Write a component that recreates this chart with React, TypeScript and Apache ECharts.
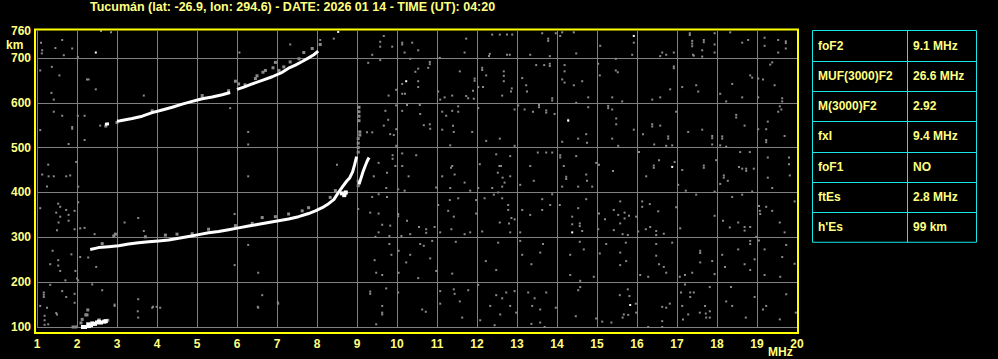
import React, { useEffect, useRef } from "react";
import * as echarts from "echarts";

const titleText = "Tucumán (lat: -26.9, lon: 294.6) - DATE: 2026 01 14 - TIME (UT): 04:20";
const freqMin = 1;
const freqMax = 20;
const heightMin = 100;
const heightMax = 760;
const heightStep = 100;

const tableLabels = ["foF2", "MUF(3000)F2", "M(3000)F2", "fxI", "foF1", "ftEs", "h'Es"];
const tableValues = ["9.1 MHz", "26.6 MHz", "2.92", "9.4 MHz", "NO", "2.8 MHz", "99 km"];

// ordinary F2 trace
const oTrace = [
  [2.33, 273], [2.54, 277], [2.79, 279], [3.04, 281], [3.29, 285], [3.54, 288], [3.79, 290],
  [4.04, 292], [4.29, 294], [4.54, 298], [4.79, 302], [5.04, 306], [5.29, 310], [5.54, 313],
  [5.79, 317], [6.04, 321], [6.29, 325], [6.54, 329], [6.79, 333], [7.04, 337], [7.29, 341],
  [7.54, 346], [7.79, 353], [7.96, 359], [8.13, 366], [8.29, 375], [8.42, 384], [8.52, 398],
  [8.64, 413], [8.74, 425], [8.82, 433], [8.89, 446], [8.94, 462], [8.99, 480],
];
// extraordinary trace
const xTrace = [[9.05, 418], [9.1, 432], [9.15, 446], [9.2, 458], [9.25, 469], [9.3, 478]];
// second hop F trace
const upperTraceA = [[2.7, 552], [2.8, 553]];
const upperTraceB = [
  [3.0, 559], [3.08, 560], [3.38, 565], [3.63, 570], [3.88, 578], [4.13, 584], [4.38, 590],
  [4.63, 597], [4.88, 603], [5.13, 609], [5.38, 613], [5.63, 618], [5.83, 623],
];
const upperTraceC = [
  [6.0, 630], [6.17, 635], [6.38, 642], [6.63, 650], [6.88, 658], [7.13, 668], [7.29, 677],
  [7.46, 684], [7.63, 692], [7.79, 700], [7.92, 707], [8.03, 715],
];
// sporadic E
const esTrace = [
  [2.07, 93], [2.12, 95], [2.17, 97], [2.2, 100], [2.25, 99], [2.3, 102], [2.35, 104], [2.38, 108],
  [2.45, 107], [2.5, 110], [2.55, 112], [2.6, 110], [2.68, 112], [2.72, 113], [2.15, 100], [2.28, 106],
  [8.62, 398], [8.68, 394], [8.72, 400],
];
const traceEcho = [
  [3.88, 582], [5.13, 616], [5.79, 627], [5.96, 648], [6.04, 642], [6.2, 640], [6.46, 654], [6.5, 660],
  [6.65, 668], [6.71, 672], [6.9, 678], [6.96, 690], [7.05, 672], [7.17, 680], [7.33, 691], [7.55, 698],
  [7.67, 712], [7.88, 721], [8.08, 730], [2.72, 548], [3.0, 556],
  [2.63, 286], [2.96, 307], [2.92, 303], [3.71, 301], [4.21, 305], [4.5, 307], [4.88, 308], [5.29, 318],
  [5.96, 326], [6.38, 331], [6.63, 344], [6.96, 346], [7.29, 352], [7.63, 359], [7.79, 366], [8.33, 389],
  [8.46, 404], [8.71, 396], [9.03, 490], [9.03, 500], [9.03, 510], [9.03, 520], [9.05, 560], [9.05, 570],
  [9.05, 580], [9.05, 590], [9.07, 528], [9.07, 535], [9.03, 425], [9.03, 415],
  [1.9, 100], [1.97, 100], [2.1, 109], [2.22, 127], [2.25, 127], [2.27, 138], [2.55, 116], [2.77, 115],
  [2.13, 117],
];
const whiteDots = [
  [2.47, 712], [8.53, 758], [10.23, 648], [15.92, 749], [14.28, 560], [16.88, 457], [14.38, 311],
  [15.83, 149], [15.98, 91], [17.55, 90],
];
const noiseUpper = [
  [1.5, 762], [2.6, 760], [2.85, 757], [1.1, 734], [1.13, 717], [1.12, 710], [1.46, 722], [1.63, 740],
  [1.88, 721], [1.67, 706], [2.02, 702], [1.37, 680], [1.56, 661], [2.25, 652], [2.29, 652], [2.47, 630],
  [1.36, 622], [1.42, 607], [3.67, 616], [1.08, 672], [1.42, 580], [1.63, 571], [2.02, 571], [2.19, 571],
  [1.88, 546], [1.88, 542], [2.58, 549], [1.08, 539], [1.79, 508], [2.19, 517], [1.28, 462], [1.13, 440],
  [1.29, 436], [1.42, 436], [1.73, 436], [1.83, 438], [1.98, 468], [5.83, 588], [6.28, 535], [6.28, 507],
  [6.28, 436], [6.06, 712], [7.33, 730], [8.08, 740], [8.08, 730], [8.42, 743], [9.28, 689], [9.38, 707],
  [9.67, 749], [9.58, 736], [9.58, 725], [9.88, 725], [10.13, 734], [10.13, 730], [10.19, 712], [10.38, 734],
  [9.58, 695], [10.46, 669], [10.33, 698], [10.13, 642], [9.98, 629], [9.79, 616], [10.13, 620], [10.2, 620],
  [9.98, 594], [10.13, 582], [10.25, 595], [9.71, 582], [9.78, 562], [9.67, 549], [9.83, 530], [9.92, 528],
  [9.98, 541], [9.25, 534], [9.38, 534], [9.98, 504], [10.13, 487], [9.89, 483], [9.89, 475], [9.96, 459],
  [9.75, 444], [9.54, 466], [9.42, 436], [10.13, 459], [10.29, 436], [8.5, 462],
  [11.32, 762], [11.73, 743], [12.38, 752], [12.57, 752], [12.75, 752], [12.88, 752], [13.33, 762],
  [13.63, 755], [13.78, 743], [13.78, 738], [13.97, 755], [14.08, 749], [14.13, 757], [14.42, 757],
  [15.03, 762], [15.92, 734], [15.08, 727], [14.48, 710], [13.82, 704], [13.33, 707], [12.75, 707],
  [12.82, 707], [12.3, 704], [12.32, 709], [11.69, 712], [11.07, 700], [10.53, 717], [17.32, 755],
  [17.32, 751], [17.38, 738], [17.38, 732], [17.38, 726], [17.4, 707], [17.42, 705], [17.67, 740],
  [17.67, 735], [17.63, 717], [17.63, 703], [17.94, 755], [17.94, 730], [17.94, 712], [18.33, 757],
  [18.63, 734], [18.78, 740], [19.19, 745], [19.19, 727], [19.33, 762], [19.53, 740], [19.72, 737],
  [19.72, 733], [19.72, 721], [19.53, 712], [16.63, 712], [16.73, 707], [16.92, 712], [16.58, 704],
  [15.88, 707], [15.47, 698], [15.03, 687], [10.82, 691], [10.82, 686], [10.53, 676], [10.78, 678],
  [11.57, 670], [12.13, 678], [12.13, 673], [12.23, 661], [12.67, 670], [12.67, 660], [12.67, 648],
  [13.13, 655], [13.48, 684], [13.68, 684], [13.82, 687], [13.82, 682], [14.19, 684], [14.19, 670],
  [14.13, 652], [14.19, 645], [14.42, 639], [14.63, 648], [15.07, 661], [15.47, 672], [15.52, 668],
  [10.53, 648], [10.53, 635], [11.03, 625], [11.94, 654], [11.94, 649], [12.03, 635], [12.15, 635],
  [11.9, 627], [11.92, 609], [11.73, 615], [11.78, 610], [11.38, 616], [11.19, 612], [11.08, 607],
  [12.63, 616], [12.85, 625], [12.87, 632], [13.23, 639], [13.25, 625], [13.88, 605], [13.88, 610],
  [14.78, 612], [14.48, 600], [15.38, 612], [15.63, 603], [16.38, 607], [16.58, 612], [16.83, 630],
  [16.92, 677], [16.92, 681], [17.13, 635], [17.48, 639], [17.53, 625], [18.08, 620], [18.23, 603],
  [18.38, 642], [18.63, 612], [18.83, 661], [18.88, 656], [19.03, 654], [19.15, 652], [19.44, 639],
  [19.33, 685], [19.38, 690], [19.03, 612], [19.63, 610], [19.63, 603], [19.57, 592], [19.61, 585],
  [19.53, 580], [10.57, 595], [10.58, 575], [10.67, 550], [10.82, 552], [10.83, 542], [11.13, 580],
  [11.23, 571], [11.4, 549], [11.38, 582], [11.53, 592], [11.53, 580], [11.13, 540], [11.33, 505],
  [11.42, 535], [11.88, 535], [12.03, 588], [12.23, 515], [12.57, 520], [12.94, 585], [12.94, 504],
  [13.03, 594], [13.19, 585], [13.4, 580], [13.55, 595], [13.55, 590], [13.73, 583], [13.73, 578],
  [13.94, 575], [14.28, 562], [14.13, 513], [14.53, 520], [14.73, 530], [14.75, 511], [14.78, 590],
  [15.28, 593], [15.28, 588], [15.38, 585], [15.48, 565], [15.48, 552], [15.38, 520], [15.53, 504],
  [15.92, 540], [16.15, 530], [16.38, 552], [16.38, 547], [16.58, 549], [16.78, 525], [16.78, 520],
  [16.43, 507], [16.73, 504], [16.88, 505], [16.98, 580], [17.28, 535], [17.63, 540], [17.88, 526],
  [17.88, 521], [18.13, 525], [18.13, 520], [17.88, 507], [18.08, 505], [18.23, 502], [18.48, 573],
  [18.48, 567], [18.69, 549], [19.03, 541], [19.23, 541], [19.23, 517], [19.23, 512], [19.27, 558],
  [19.69, 526], [10.48, 483], [11.38, 459], [11.35, 455], [11.13, 436], [11.44, 440], [12.07, 463],
  [12.48, 485], [12.6, 459], [12.52, 444], [12.56, 459], [12.83, 481], [12.83, 436], [12.64, 433],
  [13.33, 459], [13.52, 489], [13.73, 489], [13.88, 489], [14.08, 483], [14.08, 478], [14.17, 459],
  [14.23, 435], [14.23, 430], [14.48, 481], [14.73, 440], [14.98, 466], [15.05, 462], [15.4, 448],
  [16.05, 490], [16.23, 436], [16.42, 460], [16.42, 455], [16.55, 472], [16.94, 468], [17.13, 450],
  [17.67, 460], [17.67, 455], [17.98, 472], [18.17, 438], [18.17, 433], [18.55, 457], [18.63, 453],
  [18.73, 453], [18.73, 448], [18.58, 490], [18.82, 490], [19.27, 478], [19.27, 433], [19.8, 478],
  [19.8, 463], [19.82, 438], [18.92, 453],
];
const noiseLower = [
  [1.25, 413], [2.03, 413], [1.08, 365], [1.53, 375], [1.58, 368], [1.48, 355], [1.73, 361], [1.79, 350],
  [1.94, 359], [1.58, 346], [1.54, 333], [1.79, 337], [1.5, 316], [1.94, 318], [2.08, 320], [2.19, 321],
  [2.03, 378], [2.44, 307], [3.19, 333], [3.53, 343], [3.67, 314], [5.94, 352], [6.28, 283],
  [1.39, 270], [1.53, 249], [1.53, 237], [1.33, 240], [1.86, 262], [2.08, 256], [2.28, 255], [2.48, 234],
  [1.33, 194], [1.58, 225], [1.71, 204], [1.96, 225], [2.03, 204], [2.0, 208], [2.38, 195], [1.17, 177],
  [1.17, 167], [1.17, 172], [1.25, 143], [1.08, 147], [1.63, 180], [1.73, 167], [1.94, 174], [1.94, 154],
  [1.5, 128], [1.28, 106], [2.63, 182], [2.94, 147], [3.53, 162], [3.53, 121], [3.88, 143],
  [4.08, 143], [5.94, 238], [6.53, 221], [6.63, 171], [6.53, 143], [7.03, 152], [9.03, 363], [9.38, 390],
  [9.54, 396], [9.75, 390], [10.03, 407], [10.19, 404], [9.73, 410], [9.33, 355], [9.54, 353], [10.03, 352],
  [10.03, 347], [10.25, 337], [10.33, 307], [10.11, 303], [9.83, 326], [9.63, 328], [9.54, 311], [9.81, 303],
  [9.46, 301], [9.81, 285], [10.04, 270], [9.86, 261], [9.44, 249], [10.33, 261], [10.23, 244], [9.48, 221],
  [10.04, 221], [9.73, 186], [9.63, 216], [9.33, 179], [9.33, 174], [10.03, 177], [9.63, 147], [9.63, 132],
  [9.63, 128], [9.48, 106], [10.29, 95], [1.19, 105], [1.19, 115], [1.19, 125], [1.48, 131], [2.94, 150],
  [3.52, 135], [3.9, 145], [3.99, 145], [6.52, 145], [7.02, 155],
  [10.98, 411], [11.33, 410], [11.69, 422], [11.83, 404], [12.03, 410], [12.38, 410], [12.53, 400],
  [12.63, 413], [12.69, 422], [13.08, 417], [13.42, 426], [14.13, 413], [14.53, 413], [14.75, 426],
  [14.88, 413], [17.03, 417], [17.22, 404], [17.94, 402], [18.08, 419], [18.27, 426], [19.38, 410],
  [11.03, 372], [11.32, 383], [11.53, 387], [11.28, 359], [11.42, 346], [10.73, 318], [10.73, 310],
  [10.55, 323], [10.94, 323], [11.08, 311], [11.36, 318], [11.69, 307], [11.83, 311], [11.98, 353],
  [11.98, 383], [12.19, 387], [12.42, 395], [12.63, 387], [12.78, 372], [12.78, 361], [12.57, 333],
  [12.8, 331], [12.86, 343], [12.94, 340], [12.13, 313], [12.83, 311], [13.08, 311], [13.13, 361],
  [13.33, 350], [13.63, 385], [13.63, 361], [13.83, 372], [13.88, 396], [14.07, 372], [14.53, 365],
  [14.38, 346], [14.38, 329], [14.57, 331], [14.57, 325], [14.63, 314], [14.73, 385], [15.05, 353],
  [15.03, 318], [15.2, 340], [15.42, 361], [15.42, 316], [15.53, 350], [15.58, 380], [15.69, 355],
  [15.69, 342], [15.8, 348], [15.58, 331], [15.64, 307], [15.77, 305], [15.98, 346], [16.03, 313],
  [16.13, 380], [16.13, 368], [16.32, 374], [16.53, 358], [16.22, 318], [16.33, 323], [16.48, 314],
  [16.67, 308], [16.48, 305], [16.98, 367], [17.08, 320], [17.48, 395], [17.94, 348], [18.15, 337],
  [18.32, 322], [18.53, 333], [18.69, 323], [18.69, 315], [18.83, 323], [18.38, 390], [18.63, 395],
  [18.88, 402], [19.05, 370], [19.07, 359], [19.08, 352], [19.23, 368], [19.38, 359], [19.57, 333],
  [19.69, 311], [19.94, 380], [18.98, 301], [10.58, 285], [10.67, 281], [10.88, 292], [10.83, 253],
  [10.98, 225], [11.38, 219], [11.47, 290], [12.22, 247], [12.48, 227], [12.53, 288], [13.13, 261],
  [13.08, 292], [13.36, 240], [13.58, 266], [13.65, 285], [14.33, 261], [14.33, 216], [14.57, 290],
  [14.58, 203], [14.67, 273], [14.92, 212], [15.07, 264], [15.23, 285], [15.58, 266], [15.58, 238],
  [15.73, 247], [15.72, 288], [16.08, 216], [16.28, 212], [16.48, 285], [16.48, 259], [16.55, 240],
  [16.67, 234], [16.73, 221], [16.88, 288], [17.07, 212], [17.2, 216], [17.38, 221], [17.58, 270],
  [17.58, 244], [17.58, 265], [17.88, 247], [17.94, 218], [18.13, 261], [18.2, 234], [18.53, 273],
  [18.69, 240], [18.83, 292], [18.83, 285], [18.83, 227], [18.94, 251], [19.05, 293], [19.19, 273],
  [19.19, 216], [19.58, 212], [19.63, 256], [19.73, 283], [19.94, 241], [10.53, 209], [12.03, 194],
  [11.08, 180], [11.42, 184], [11.78, 182], [11.08, 152], [11.44, 174], [11.57, 157], [10.63, 139],
  [10.72, 134], [11.63, 121], [12.08, 115], [12.33, 147], [12.48, 171], [12.63, 164], [12.73, 177],
  [12.83, 147], [12.94, 180], [12.98, 132], [12.58, 128], [12.44, 104], [12.73, 98], [12.08, 98],
  [13.28, 177], [13.38, 147], [13.44, 164], [13.58, 139], [13.73, 177], [13.58, 110], [13.36, 107],
  [13.69, 100], [13.97, 143], [14.47, 124], [14.53, 182], [14.58, 189], [14.98, 119], [15.13, 112],
  [15.36, 110], [15.57, 171], [15.67, 128], [15.64, 121], [15.78, 127], [15.77, 184], [15.81, 169],
  [15.97, 152], [15.98, 132], [16.28, 100], [16.63, 145], [16.73, 143], [16.82, 152], [16.63, 113],
  [16.63, 100], [17.1, 177], [17.2, 195], [17.33, 177], [17.42, 177], [17.33, 167], [17.82, 189],
  [17.13, 147], [17.28, 128], [17.15, 117], [17.57, 132], [17.72, 130], [17.73, 121], [17.82, 121],
  [17.82, 135], [17.7, 147], [18.38, 147], [18.23, 157], [18.35, 189], [18.72, 121], [18.94, 167],
  [19.15, 139], [19.23, 147], [19.73, 173], [19.57, 117], [19.97, 132], [19.05, 98],
  [10.69, 94], [11.19, 93], [11.36, 98], [11.57, 94], [11.78, 96], [12.07, 93], [12.42, 98], [12.48, 94],
  [12.67, 93], [12.86, 92], [13.15, 93], [13.38, 93], [13.9, 96], [13.92, 92], [14.13, 93], [14.5, 93],
  [14.73, 92], [14.9, 93], [15.03, 94], [15.28, 92], [15.47, 93], [15.58, 92], [16.23, 98], [16.3, 93],
  [16.61, 94], [17.05, 93], [17.15, 96], [17.38, 92], [17.73, 94], [17.9, 93], [19.15, 93], [19.3, 94],
  [19.48, 94], [19.69, 93], [19.86, 93],
];

const YEL = "#ffff80";
const CYAN = "#19e6e6";
const GRAY = "#8a8a8a";
const FONT = '"Liberation Sans", Arial, sans-serif';

export default function App() {
  const ref = useRef<HTMLDivElement>(null);
  useEffect(() => {
    if (!ref.current) return;
    const chart = echarts.init(ref.current, null, { renderer: "svg" });

    const tableX = 812.5;
    const tableY = 30.5;
    const tableW = 164;
    const rowH = 30.25;
    const colX = 907.5;
    const tableEls: any[] = [];
    tableEls.push({
      type: "rect",
      shape: { x: tableX, y: tableY, width: tableW, height: rowH * tableLabels.length },
      style: { fill: "none", stroke: CYAN, lineWidth: 1 },
    });
    tableEls.push({
      type: "line",
      shape: { x1: colX, y1: tableY, x2: colX, y2: tableY + rowH * tableLabels.length },
      style: { stroke: CYAN, lineWidth: 1 },
    });
    tableLabels.forEach((lab, i) => {
      const yTop = Math.round(tableY + rowH * i) + 0.5;
      if (i > 0) {
        tableEls.push({
          type: "line",
          shape: { x1: tableX, y1: yTop, x2: tableX + tableW, y2: yTop },
          style: { stroke: CYAN, lineWidth: 1 },
        });
      }
      const cy = tableY + rowH * i + rowH / 2;
      tableEls.push({
        type: "text",
        x: 818,
        y: cy,
        style: { text: lab, fill: YEL, font: `bold 12px ${FONT}`, verticalAlign: "middle", align: "left" },
      });
      tableEls.push({
        type: "text",
        x: 913,
        y: cy,
        style: { text: tableValues[i], fill: YEL, font: `bold 12px ${FONT}`, verticalAlign: "middle", align: "left" },
      });
    });

    const scatter = (data: number[][], color: string, size: number[], z: number) => ({
      type: "scatter",
      data,
      symbol: "rect",
      symbolSize: size,
      itemStyle: { color, opacity: 1 },
      silent: true,
      z,
    });
    const line = (data: number[][]) => ({
      type: "line",
      data,
      showSymbol: false,
      symbol: "none",
      lineStyle: { color: "#ffffff", width: 3 },
      silent: true,
      z: 5,
    });

    chart.setOption({
      animation: false,
      backgroundColor: "#000000",
      grid: { left: 37, right: 201, top: 31, bottom: 32, containLabel: false },
      xAxis: {
        type: "value",
        min: freqMin,
        max: freqMax,
        interval: 1,
        axisLine: { show: false },
        axisTick: { show: false },
        axisLabel: {
          color: YEL,
          fontSize: 12,
          fontWeight: "bold",
          fontFamily: FONT,
          margin: 17,
          verticalAlign: "middle",
          showMinLabel: true,
          showMaxLabel: true,
        },
        splitLine: { show: true, lineStyle: { color: "#808080", width: 1 } },
      },
      yAxis: {
        type: "value",
        min: heightMin,
        max: heightMax,
        interval: heightStep,
        axisLine: { show: false },
        axisTick: { show: false },
        axisLabel: {
          color: YEL,
          fontSize: 12,
          fontWeight: "bold",
          fontFamily: FONT,
          margin: 6,
          showMinLabel: true,
          showMaxLabel: true,
        },
        splitLine: { show: true, showMaxLine: false, lineStyle: { color: "#808080", width: 1 } },
      },
      series: [
        scatter(noiseUpper, GRAY, [2, 2], 2),
        scatter(noiseLower, GRAY, [2, 2], 2),
        scatter(traceEcho, GRAY, [3, 3], 3),
        scatter(whiteDots, "#ffffff", [2, 2], 4),
        line(oTrace),
        line(xTrace),
        line(upperTraceA),
        line(upperTraceB),
        line(upperTraceC),
        scatter(esTrace, "#ffffff", [4, 4], 6),
      ],
      graphic: [
        {
          type: "text",
          x: 90,
          y: 7,
          style: { text: titleText, fill: YEL, font: `bold 12.5px ${FONT}`, verticalAlign: "middle" },
        },
        {
          type: "text",
          x: 6,
          y: 45,
          style: { text: "km", fill: YEL, font: `bold 12px ${FONT}`, verticalAlign: "middle" },
        },
        {
          type: "text",
          x: 768,
          y: 352,
          style: { text: "MHz", fill: YEL, font: `bold 12px ${FONT}`, verticalAlign: "middle" },
        },
        {
          type: "rect",
          z: 100,
          shape: { x: 35, y: 29.5, width: 763, height: 303.5 },
          style: { fill: "none", stroke: "#ffff00", lineWidth: 2 },
        },
        ...tableEls,
      ],
    });
    return () => chart.dispose();
  }, []);
  return (
    <div
      ref={ref}
      style={{ position: "fixed", left: 0, top: 0, width: 998, height: 359, background: "#000" }}
    />
  );
}
